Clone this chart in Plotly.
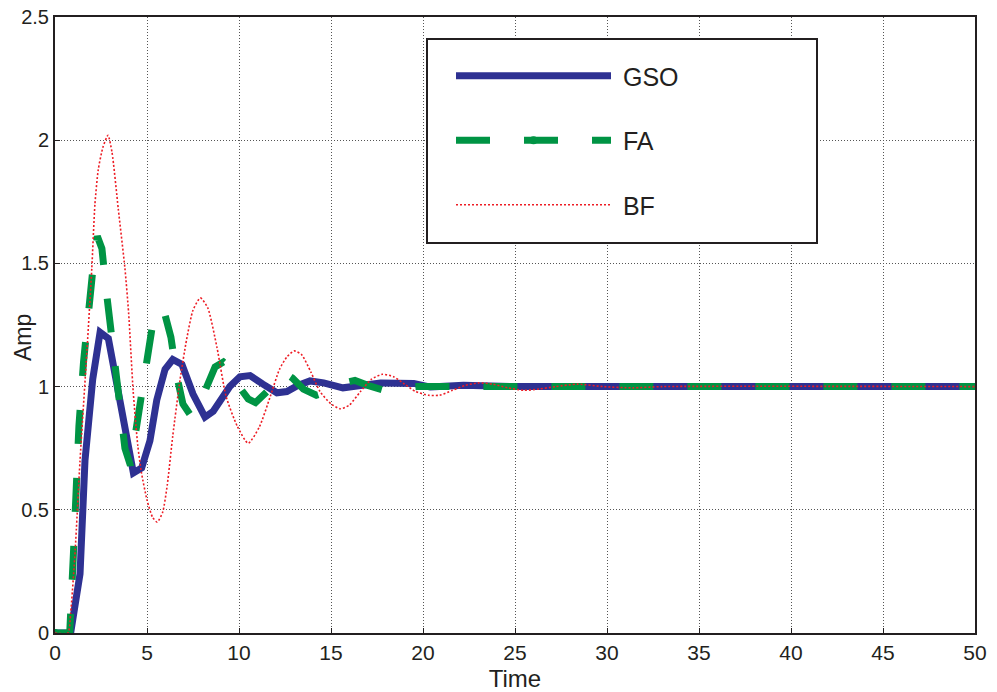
import plotly.graph_objects as go

# ---- data ----
gso_t = [0, 0.85, 1.36, 1.63, 2.05, 2.45, 2.9, 3.6, 4.26, 4.71, 5.16, 5.53, 5.98, 6.4,
         6.9, 7.5, 8.15, 8.6, 9.5, 10.05, 10.6, 11.3, 12.06, 12.6, 13.2, 13.86, 14.6,
         15.65, 16.6, 17.7, 19.5, 20.4, 22.2, 25, 50]
gso_y = [0, 0, 0.24, 0.70, 1.03, 1.22, 1.195, 0.92, 0.65, 0.67, 0.78, 0.945, 1.07, 1.11,
         1.09, 0.97, 0.876, 0.90, 1.0, 1.04, 1.045, 1.01, 0.975, 0.98, 1.005, 1.023, 1.015,
         0.995, 1.005, 1.015, 1.013, 0.998, 1.005, 1.0, 1.0]

fa_t = [0, 0.8, 1.0, 1.3, 1.55, 1.8, 2.05, 2.3, 2.55, 2.8, 3.05, 3.3, 3.55, 3.8, 4.1,
        4.35, 4.65, 4.95, 5.3, 5.65, 5.95, 6.3, 6.6, 6.95, 7.4, 7.8, 8.3, 8.7, 9.15, 9.6,
        10.1, 10.5, 10.9, 11.6, 12.1, 12.5, 12.9, 13.5, 14.2, 15.0, 15.7, 16.3, 17.0,
        17.9, 18.8, 19.7, 21, 50]
fa_y = [0, 0, 0.32, 0.84, 1.1, 1.3, 1.47, 1.61, 1.56, 1.38, 1.22, 1.03, 0.87, 0.75, 0.68,
        0.8, 0.96, 1.12, 1.25, 1.32, 1.3, 1.2, 1.05, 0.93, 0.88, 0.92, 1.02, 1.08, 1.1, 1.07,
        0.99, 0.95, 0.935, 0.985, 1.04, 1.055, 1.035, 0.99, 0.965, 0.985, 1.015, 1.025, 1.005,
        0.985, 0.995, 1.0, 1.0, 1.0]

bf_t = [0, 0.7, 0.85, 1.1, 1.36, 1.74, 2.0, 2.17, 2.35, 2.6, 2.88, 3.1, 3.44, 3.8, 4.0,
        4.25, 4.5, 4.7, 5.0, 5.3, 5.55, 5.85, 6.1, 6.4, 6.8, 7.15, 7.5, 7.9, 8.3, 8.8, 9.3,
        9.9, 10.5, 11.1, 11.7, 12.2, 12.6, 13.0, 13.4, 13.9, 14.4, 15.0, 15.5, 16.0, 16.6,
        17.2, 17.8, 18.4, 19.0, 19.6, 20.3, 20.9, 21.6, 22.3, 23.0, 23.8, 24.6, 25.5, 26.3,
        27.2, 28.4, 29.8, 31.4, 33.0, 50]
bf_y = [0, 0, 0.08, 0.34, 0.70, 1.15, 1.48, 1.74, 1.88, 1.97, 2.02, 1.95, 1.72, 1.48, 1.3,
        0.98, 0.76, 0.65, 0.54, 0.47, 0.45, 0.49, 0.6, 0.8, 1.03, 1.19, 1.31, 1.36, 1.32, 1.16,
        0.96, 0.84, 0.77, 0.835, 0.96, 1.07, 1.12, 1.145, 1.13, 1.06, 0.98, 0.93, 0.91, 0.925,
        0.98, 1.03, 1.05, 1.04, 1.01, 0.98, 0.965, 0.965, 0.985, 1.005, 1.015, 1.01, 0.995,
        0.985, 0.99, 1.0, 1.01, 1.0, 0.995, 1.0, 1.0]

x_ticks = [0, 5, 10, 15, 20, 25, 30, 35, 40, 45, 50]
y_ticks = [0, 0.5, 1, 1.5, 2, 2.5]
y_tick_text = ["0", "0.5", "1", "1.5", "2", "2.5"]

BLUE = "#2e3192"
GREEN = "#009444"
RED = "#ed1c24"
INK = "#231f20"
FONT = "Liberation Sans, Arial, sans-serif"
GAP = "\u00a0"

fig = go.Figure()
fig.add_trace(go.Scatter(x=gso_t, y=gso_y, name=GAP + "GSO", mode="lines", legendgroup="a",
                         line=dict(color=BLUE, width=7)))
# FA: a '.' marker style, visible in the legend key (only the first point carries a colour)
fa_marker_colors = [GREEN] + ["rgba(0,0,0,0)"] * (len(fa_t) - 1)
fig.add_trace(go.Scatter(x=fa_t, y=fa_y, name=GAP + "FA", mode="lines+markers", legendgroup="b",
                         line=dict(color=GREEN, width=7, dash="34px,34px"),
                         marker=dict(size=8, color=fa_marker_colors, line=dict(width=0))))
fig.add_trace(go.Scatter(x=bf_t, y=bf_y, name=GAP + "BF", mode="lines", legendgroup="c",
                         line=dict(color=RED, width=1.6, dash="2px,2px", shape="spline", smoothing=0.6)))

# layout geometry in pixels
L, R, T, B = 55, 975, 17, 633
def px_x(p):
    return (p - L) / (R - L)
def px_y(p):
    return (B - p) / (B - T)

# legend frame
fig.add_shape(type="rect", xref="paper", yref="paper",
              x0=px_x(427), x1=px_x(817), y0=px_y(243), y1=px_y(39),
              line=dict(color=INK, width=2), fillcolor="white", layer="above")

fig.add_annotation(text="Amp", xref="paper", yref="paper", x=px_x(23), y=px_y(338),
                   textangle=-90, showarrow=False, xanchor="center", yanchor="middle",
                   font=dict(size=23, family=FONT, color=INK))

fig.update_layout(
    width=997, height=692,
    margin=dict(l=L, r=997 - R, t=T, b=692 - B, pad=0, autoexpand=False),
    paper_bgcolor="white", plot_bgcolor="white",
    font=dict(family=FONT, color=INK, size=20),
    showlegend=True,
    legend=dict(x=px_x(451), y=px_y(53), xanchor="left", yanchor="top",
                bgcolor="rgba(0,0,0,0)", borderwidth=0,
                font=dict(size=25, family=FONT, color=INK),
                itemwidth=155, traceorder="grouped", tracegroupgap=29),
    xaxis=dict(range=[0, 50], tickvals=x_ticks, showline=True, mirror=True, automargin=False,
               linecolor=INK, linewidth=2, ticks="inside", ticklen=5, tickcolor=INK,
               showgrid=True, gridcolor="#555555", gridwidth=1, griddash="1px,2px",
               zeroline=False, tickfont=dict(size=21),
               title=dict(text="Time", font=dict(size=24))),
    yaxis=dict(range=[0, 2.5], tickvals=y_ticks, ticktext=y_tick_text, showline=True, mirror=True,
               automargin=False,
               linecolor=INK, linewidth=2, ticks="inside", ticklen=5, tickcolor=INK,
               showgrid=True, gridcolor="#555555", gridwidth=1, griddash="1px,2px",
               zeroline=False, tickfont=dict(size=20)),
)

fig.write_html("out.html")
